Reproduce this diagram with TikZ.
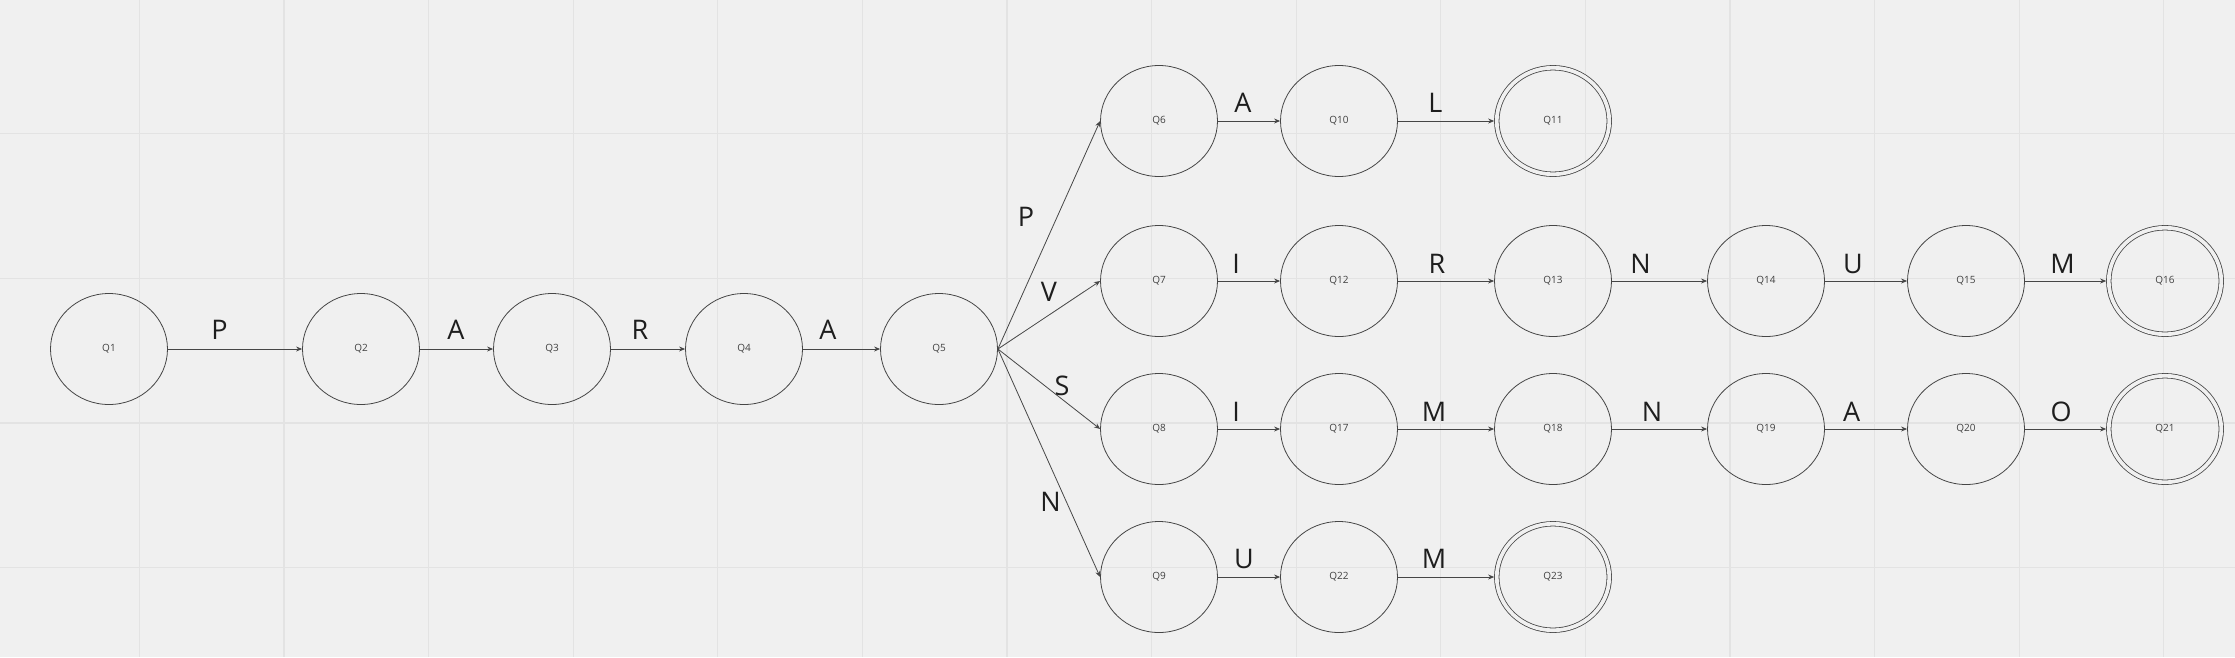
\documentclass[tikz,border=0pt]{standalone}
\usepackage{fontspec}
\setmainfont{Open Sans}
\usetikzlibrary{shapes.geometric, arrows.meta}
\definecolor{bgcol}{RGB}{240,240,240}
\definecolor{gridcol}{RGB}{227,227,227}
\definecolor{edgecol}{RGB}{70,70,70}
\definecolor{txtcol}{RGB}{30,30,30}
\tikzset{
  state/.style={ellipse, draw=edgecol, minimum width=117pt, minimum height=111pt,
    inner sep=0pt, line width=0.8pt, font=\fontsize{10}{12}\selectfont, text=txtcol!85},
  accept/.style={state, minimum width=112.5pt, minimum height=106.5pt,
    double=bgcol, double distance=3.7pt, outer sep=2.6pt},
  arrow/.style={-{Stealth[length=6pt,width=5pt]}, line width=0.8pt, color=edgecol},
  sym/.style={font=\fontsize{27}{30}\selectfont, text=txtcol, inner sep=0pt}
}

\begin{document}
\begin{tikzpicture}[x=1pt, y=-1pt]
  \fill[bgcol] (0,0) rectangle (2235,657);
  \useasboundingbox (0,0) rectangle (2235,657);
  % grid
  \foreach \gx in {0,...,14}
    \draw[gridcol, line width=1.2pt] (139.3+144.6*\gx,0) -- ++(0,657);
  \foreach \gy in {0,...,3}
    \draw[gridcol, line width=1.2pt] (0,133.8+144.6*\gy) -- ++(2235,0);

  % states
  \node[state] (q1) at (109,349) {Q1};
  \node[state] (q2) at (361,349) {Q2};
  \node[state] (q3) at (552,349) {Q3};
  \node[state] (q4) at (744,349) {Q4};
  \node[state] (q5) at (939,349) {Q5};

  \node[state] (q6) at (1159,121) {Q6};
  \node[state] (q10) at (1339,121) {Q10};
  \node[accept] (q11) at (1553,121) {Q11};

  \node[state] (q7) at (1159,281) {Q7};
  \node[state] (q12) at (1339,281) {Q12};
  \node[state] (q13) at (1553,281) {Q13};
  \node[state] (q14) at (1766,281) {Q14};
  \node[state] (q15) at (1966,281) {Q15};
  \node[accept] (q16) at (2165,281) {Q16};

  \node[state] (q8) at (1159,429) {Q8};
  \node[state] (q17) at (1339,429) {Q17};
  \node[state] (q18) at (1553,429) {Q18};
  \node[state] (q19) at (1766,429) {Q19};
  \node[state] (q20) at (1966,429) {Q20};
  \node[accept] (q21) at (2165,429) {Q21};

  \node[state] (q9) at (1159,577) {Q9};
  \node[state] (q22) at (1339,577) {Q22};
  \node[accept] (q23) at (1553,577) {Q23};

  % transitions
  \draw[arrow] (q1.east) -- (q2.west);
  \draw[arrow] (q2.east) -- (q3.west);
  \draw[arrow] (q3.east) -- (q4.west);
  \draw[arrow] (q4.east) -- (q5.west);
  \draw[arrow] (q5.east) -- (q6.west);
  \draw[arrow] (q5.east) -- (q7.west);
  \draw[arrow] (q5.east) -- (q8.west);
  \draw[arrow] (q5.east) -- (q9.west);
  \draw[arrow] (q6.east) -- (q10.west);
  \draw[arrow] (q10.east) -- (q11.west);
  \draw[arrow] (q7.east) -- (q12.west);
  \draw[arrow] (q12.east) -- (q13.west);
  \draw[arrow] (q13.east) -- (q14.west);
  \draw[arrow] (q14.east) -- (q15.west);
  \draw[arrow] (q15.east) -- (q16.west);
  \draw[arrow] (q8.east) -- (q17.west);
  \draw[arrow] (q17.east) -- (q18.west);
  \draw[arrow] (q18.east) -- (q19.west);
  \draw[arrow] (q19.east) -- (q20.west);
  \draw[arrow] (q20.east) -- (q21.west);
  \draw[arrow] (q9.east) -- (q22.west);
  \draw[arrow] (q22.east) -- (q23.west);

  % symbols
  \node[sym] (s12) at (219.5,330) {P};
  \node[sym] (s23) at (456,330) {A};
  \node[sym] (s34) at (640,330) {R};
  \node[sym] (s45) at (828,330) {A};
  \node[sym] (s56) at (1026,217) {P};
  \node[sym] (s57) at (1049,292) {V};
  \node[sym] (s58) at (1062,386) {S};
  \node[sym] (s59) at (1050.5,502) {N};

  \node[sym] (s610) at (1243,102.6) {A};
  \node[sym] (s1011) at (1435.4,102.6) {L};

  \node[sym] (s712) at (1236,263.7) {I};
  \node[sym] (s1213) at (1437,263.7) {R};
  \node[sym] (s1314) at (1640.6,263.7) {N};
  \node[sym] (s1415) at (1853,263.7) {U};
  \node[sym] (s1516) at (2062.5,263.7) {M};

  \node[sym] (s817) at (1236,412) {I};
  \node[sym] (s1718) at (1434,412) {M};
  \node[sym] (s1819) at (1652,412) {N};
  \node[sym] (s1920) at (1851.6,412) {A};
  \node[sym] (s2021) at (2061,412) {O};

  \node[sym] (s922) at (1244,558.8) {U};
  \node[sym] (s2223) at (1434,558.8) {M};
\end{tikzpicture}
\end{document}
